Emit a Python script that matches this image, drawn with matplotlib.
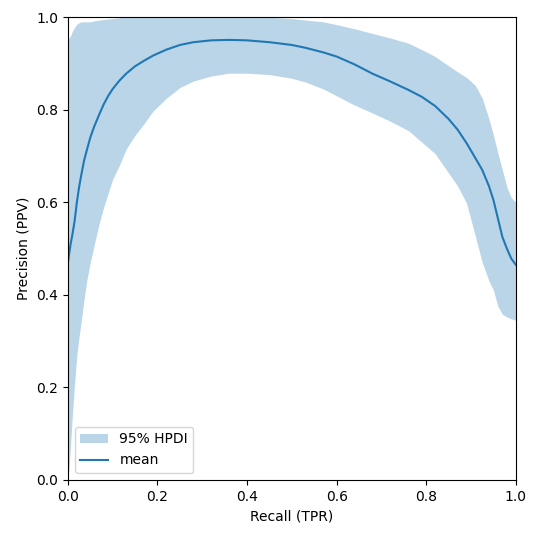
import matplotlib
matplotlib.use("Agg")
import matplotlib.pyplot as plt

recall = [0, 0.003, 0.006, 0.01, 0.015, 0.02, 0.025, 0.03, 0.036, 0.042,
          0.05, 0.058, 0.07, 0.08, 0.09, 0.1, 0.115, 0.13, 0.15, 0.17,
          0.19, 0.22, 0.25, 0.28, 0.32, 0.36, 0.4, 0.45, 0.5, 0.53,
          0.57, 0.6, 0.64, 0.68, 0.72, 0.76, 0.79, 0.82, 0.85, 0.87,
          0.89, 0.91, 0.925, 0.94, 0.95, 0.96, 0.97, 0.98, 0.99, 1.0]
mean = [0.47, 0.49, 0.51, 0.53, 0.56, 0.60, 0.633, 0.66, 0.69, 0.712,
        0.74, 0.762, 0.79, 0.812, 0.83, 0.845, 0.863, 0.878, 0.894, 0.906,
        0.917, 0.93, 0.94, 0.946, 0.95, 0.951, 0.95, 0.946, 0.94, 0.934,
        0.924, 0.915, 0.898, 0.878, 0.861, 0.843, 0.828, 0.808, 0.78, 0.757,
        0.728, 0.695, 0.67, 0.635, 0.605, 0.565, 0.525, 0.50, 0.478, 0.465]
upper = [0.955, 0.955, 0.96, 0.97, 0.978, 0.985, 0.988, 0.99, 0.99, 0.99,
         0.99, 0.992, 0.994, 0.995, 0.996, 0.997, 0.999, 1.0, 1.0, 1.0,
         1.0, 1.0, 1.0, 1.0, 1.0, 1.0, 1.0, 1.0, 0.997, 0.994,
         0.99, 0.984, 0.975, 0.965, 0.955, 0.944, 0.93, 0.915, 0.895, 0.882,
         0.87, 0.852, 0.825, 0.78, 0.745, 0.706, 0.67, 0.633, 0.61, 0.60]
lower = [0.0, 0.03, 0.08, 0.14, 0.21, 0.27, 0.31, 0.345, 0.39, 0.43,
         0.47, 0.505, 0.555, 0.59, 0.62, 0.65, 0.68, 0.715, 0.745, 0.77,
         0.797, 0.825, 0.848, 0.862, 0.873, 0.879, 0.879, 0.876, 0.868, 0.86,
         0.845, 0.83, 0.81, 0.793, 0.775, 0.755, 0.73, 0.705, 0.663, 0.635,
         0.598, 0.525, 0.47, 0.43, 0.41, 0.375, 0.358, 0.352, 0.348, 0.345]

fig = plt.figure(figsize=(5.39, 5.38), dpi=100)
ax = fig.add_axes([0.126, 0.108, 0.831, 0.860])
ax.fill_between(recall, lower, upper, color="C0", alpha=0.3, linewidth=0, label="95% HPDI")
ax.plot(recall, mean, color="C0", label="mean")
ax.set_xlim(0, 1)
ax.set_ylim(0, 1)
ax.set_xlabel("Recall (TPR)")
ax.set_ylabel("Precision (PPV)")
ax.legend(loc="lower left")
fig.savefig("out.png", dpi=100)
